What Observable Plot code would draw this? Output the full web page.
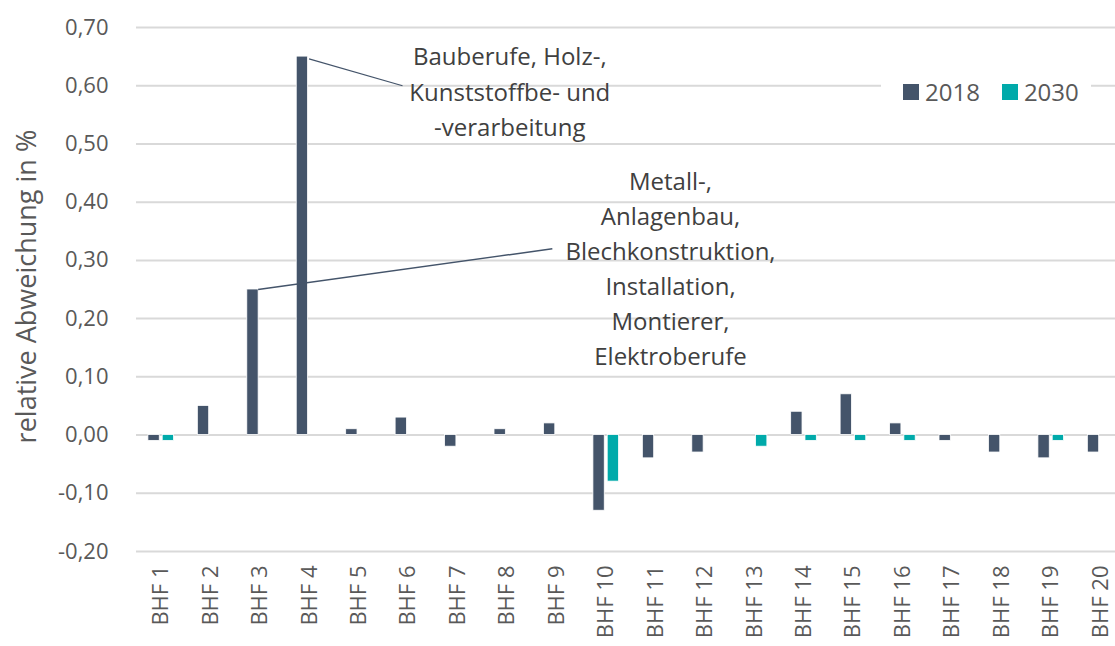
<!DOCTYPE html>
<html>
<head>
<meta charset="utf-8">
<script src="https://cdn.jsdelivr.net/npm/d3@7"></script>
<script src="https://cdn.jsdelivr.net/npm/@observablehq/plot@0.6"></script>
<style>
  html, body { margin: 0; padding: 0; background: #fff; }
  #wrap { position: relative; width: 1115px; height: 646px; font-family: "Open Sans", sans-serif; }
  #legend { position: absolute; left: 881px; top: 52px; width: 210px; height: 90px; background: #fff;
            display: flex; align-items: flex-start; padding-top: 26px; box-sizing: border-box;
            font-size: 24px; color: #595959; line-height: 28px; }
  .item { display: flex; align-items: center; }
  .sw { width: 16px; height: 16px; display: inline-block; margin-right: 6px; }
</style>
</head>
<body>
<div id="wrap"></div>
<script>
// ---- data ----
const categories = ["BHF 1","BHF 2","BHF 3","BHF 4","BHF 5","BHF 6","BHF 7","BHF 8","BHF 9","BHF 10",
                    "BHF 11","BHF 12","BHF 13","BHF 14","BHF 15","BHF 16","BHF 17","BHF 18","BHF 19","BHF 20"];
const seriesNames = ["2018", "2030"];
const values2018 = [-0.01, 0.05, 0.25, 0.65, 0.01, 0.03, -0.02, 0.01, 0.02, -0.13,
                    -0.04, -0.03, 0.00, 0.04, 0.07, 0.02, -0.01, -0.03, -0.04, -0.03];
const values2030 = [-0.01, 0.00, 0.00, 0.00, 0.00, 0.00, 0.00, 0.00, 0.00, -0.08,
                     0.00, 0.00, -0.02, -0.01, -0.01, -0.01, 0.00, 0.00, -0.01, 0.00];
const yTicks = [-0.2, -0.1, 0, 0.1, 0.2, 0.3, 0.4, 0.5, 0.6, 0.7];
const yLabel = "relative Abweichung in %";
const annotation1 = "Bauberufe, Holz-,\nKunststoffbe- und\n-verarbeitung";
const annotation2 = "Metall-,\nAnlagenbau,\nBlechkonstruktion,\nInstallation,\nMontierer,\nElektroberufe";

const colors = {"2018": "#44546a", "2030": "#00aaaa"};
const rows = (vals, s) => vals.map((v, k) => ({i: k + 1, cat: categories[k], series: s, value: v})).filter(d => d.value !== 0);
const rows2018 = rows(values2018, "2018");
const rows2030 = rows(values2030, "2030");

const fmt = d => d.toFixed(2).replace(".", ",");
const textColor = "#595959";

const chart = Plot.plot({
  width: 1115,
  height: 646,
  marginLeft: 136,
  marginRight: 0,
  marginTop: 27,
  marginBottom: 95,
  style: {fontFamily: "'Open Sans', sans-serif", fontSize: "22px", color: textColor, background: "#fff"},
  x: {domain: [0.5, 20.3]},
  y: {domain: [-0.2, 0.7]},
  marks: [
    Plot.gridY(yTicks, {stroke: "#d9d9d9", strokeOpacity: 1, strokeWidth: 2}),
    Plot.axisY(yTicks, {tickSize: 0, tickPadding: 28, tickFormat: fmt, fontSize: 22, fill: textColor, label: null}),
    Plot.axisX(categories.map((c, k) => k + 1), {tickSize: 0, tickPadding: 14, tickRotate: -90,
      tickFormat: k => categories[k - 1], fontSize: 22, fill: textColor, label: null}),
    Plot.text([yLabel], {frameAnchor: "left", y: [0.255], dx: -109, rotate: -90, textAnchor: "middle",
      fontSize: 27, fill: textColor}),
    Plot.rectY(rows2018, {x1: d => d.i - 0.5, x2: d => d.i + 0.5, y1: 0, y2: "value",
      fill: colors["2018"], stroke: "#fff", strokeWidth: 0.8, insetLeft: 11.9, insetRight: 26.2}),
    Plot.rectY(rows2030, {x1: d => d.i - 0.5, x2: d => d.i + 0.5, y1: 0, y2: "value",
      fill: colors["2030"], stroke: "#fff", strokeWidth: 0.8, insetLeft: 26.2, insetRight: 11.9}),
    Plot.link([{x1: 3.99, y1: 0.646, x2: 5.88, y2: 0.600}], {x1: "x1", y1: "y1", x2: "x2", y2: "y2",
      stroke: colors["2018"], strokeWidth: 1.2}),
    Plot.link([{x1: 2.96, y1: 0.250, x2: 8.91, y2: 0.320}], {x1: "x1", y1: "y1", x2: "x2", y2: "y2",
      stroke: colors["2018"], strokeWidth: 1.5}),
    Plot.text([annotation1], {x: [8.05], y: [0.594], fontSize: 24, lineHeight: 1.47, fill: "#404040"}),
    Plot.text([annotation2], {x: [11.30], y: [0.290], fontSize: 24, lineHeight: 1.46, fill: "#404040"})
  ]
});
document.getElementById("wrap").appendChild(chart);

const legend = document.createElement("div");
legend.id = "legend";
legend.innerHTML = seriesNames.map((s, k) =>
  `<span class="item" style="margin-left:22px"><span class="sw" style="background:${colors[s]}"></span>${s}</span>`).join("");
document.getElementById("wrap").appendChild(legend);
</script>
</body>
</html>
